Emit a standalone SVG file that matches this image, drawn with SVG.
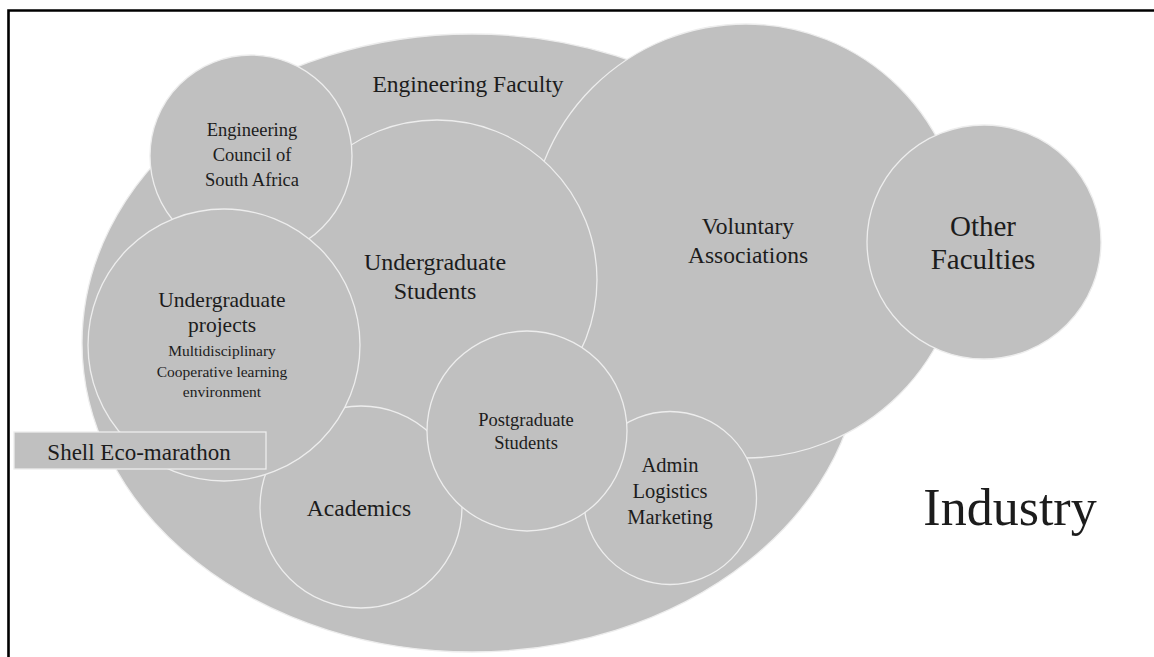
<svg xmlns="http://www.w3.org/2000/svg" width="1154" height="657" viewBox="0 0 1154 657">
  <style>
    .shape { fill: #c0c0c0; stroke: #ededed; stroke-width: 1.3; }
    .lbl { font-family: "Liberation Serif", "Times New Roman", serif; fill: #1c1c1c; text-anchor: middle; }
    .frame { fill: none; stroke: #000; stroke-width: 2.6; }
  </style>

  <rect x="0" y="0" width="1154" height="657" fill="#ffffff"/>
  <path class="frame" d="M8.5,657 V10.5 H1154"/>

  <g id="engineering-faculty">
    <ellipse class="shape" cx="472" cy="343" rx="390" ry="309" stroke="none"/>
    <text class="lbl" x="468" y="92" font-size="23.5">Engineering Faculty</text>
  </g>

  <g id="voluntary-associations">
    <circle class="shape" cx="746" cy="241" r="217"/>
    <text class="lbl" x="748" y="234" font-size="23.5">Voluntary</text>
    <text class="lbl" x="748" y="263" font-size="23.5">Associations</text>
  </g>

  <g id="undergraduate-students">
    <circle class="shape" cx="437" cy="280" r="160"/>
    <text class="lbl" x="435" y="270" font-size="24">Undergraduate</text>
    <text class="lbl" x="435" y="299" font-size="24">Students</text>
  </g>

  <g id="ecsa">
    <circle class="shape" cx="251" cy="156" r="101"/>
    <text class="lbl" x="252" y="136" font-size="18.5">Engineering</text>
    <text class="lbl" x="252" y="161" font-size="18.5">Council of</text>
    <text class="lbl" x="252" y="186" font-size="18.5">South Africa</text>
  </g>

  <g id="academics">
    <circle class="shape" cx="361" cy="507" r="101"/>
    <text class="lbl" x="359" y="516" font-size="23.5">Academics</text>
  </g>

  <g id="undergraduate-projects">
    <circle class="shape" cx="224" cy="345" r="136"/>
    <text class="lbl" x="222" y="307" font-size="21.5">Undergraduate</text>
    <text class="lbl" x="222" y="332" font-size="21.5">projects</text>
    <text class="lbl" x="222" y="356" font-size="15.5">Multidisciplinary</text>
    <text class="lbl" x="222" y="377" font-size="15.5">Cooperative learning</text>
    <text class="lbl" x="222" y="397" font-size="15.5">environment</text>
  </g>

  <g id="admin-logistics-marketing">
    <circle class="shape" cx="670" cy="498" r="86.5"/>
    <text class="lbl" x="670" y="472" font-size="20.5">Admin</text>
    <text class="lbl" x="670" y="498" font-size="20.5">Logistics</text>
    <text class="lbl" x="670" y="524" font-size="20.5">Marketing</text>
  </g>

  <g id="postgraduate-students">
    <circle class="shape" cx="527" cy="431" r="100"/>
    <text class="lbl" x="526" y="426" font-size="18.5">Postgraduate</text>
    <text class="lbl" x="526" y="449" font-size="18.5">Students</text>
  </g>

  <g id="other-faculties">
    <circle class="shape" cx="984" cy="242" r="117"/>
    <text class="lbl" x="983" y="236" font-size="29">Other</text>
    <text class="lbl" x="983" y="269" font-size="29">Faculties</text>
  </g>

  <g id="shell-eco-marathon">
    <rect class="shape" x="14" y="432" width="252" height="37"/>
    <text class="lbl" x="139" y="460" font-size="23">Shell Eco-marathon</text>
  </g>

  <g id="industry">
    <text class="lbl" x="1010" y="525" font-size="52">Industry</text>
  </g>

  <!-- nesting diagram: no connectors -->
  <g id="connectors"/>
</svg>
